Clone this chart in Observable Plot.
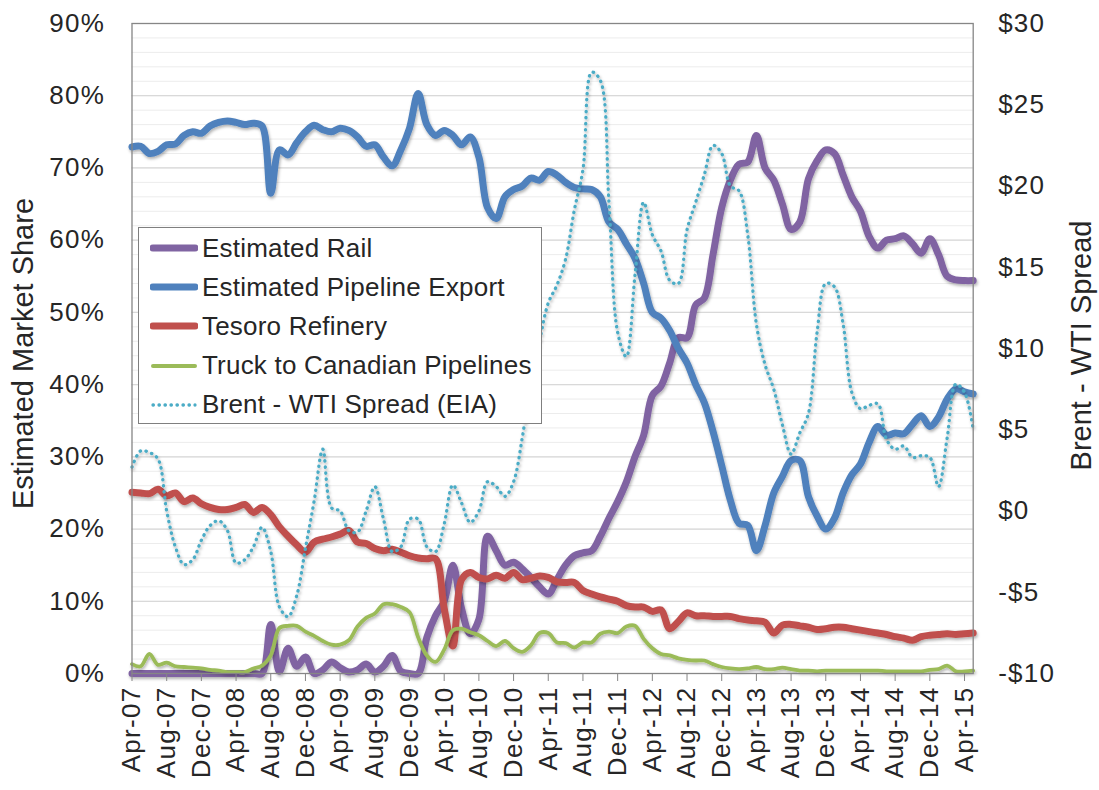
<!DOCTYPE html>
<html>
<head>
<meta charset="utf-8">
<script src="https://cdn.jsdelivr.net/npm/d3@7"></script>
<script src="https://cdn.jsdelivr.net/npm/@observablehq/plot@0.6"></script>
<style>
  html, body { margin: 0; padding: 0; background: #fff; }
  #wrap { position: relative; width: 1099px; height: 790px; font-family: "Liberation Sans", Arial, sans-serif; color: #262626; }
  #legend { position: absolute; left: 138px; top: 227px; width: 402px; height: 195px; background: #fff; border: 1.5px solid #7f7f7f; }
  .row { position: absolute; left: 0; height: 39px; display: flex; align-items: center; font-size: 26px; white-space: nowrap; letter-spacing: 0.2px; }
  .row svg { margin-left: 11px; margin-right: 4px; }
  g[aria-label="x-axis tick label"] text { letter-spacing: 1.3px; }
  g[aria-label="y-axis tick label"] text { letter-spacing: 1.2px; }
</style>
</head>
<body>
<div id="wrap"></div>
<script>
// Month categories (Apr-07 .. May-15)
const months = ["Apr-07","May-07","Jun-07","Jul-07","Aug-07","Sep-07","Oct-07","Nov-07","Dec-07","Jan-08",
"Feb-08","Mar-08","Apr-08","May-08","Jun-08","Jul-08","Aug-08","Sep-08","Oct-08","Nov-08",
"Dec-08","Jan-09","Feb-09","Mar-09","Apr-09","May-09","Jun-09","Jul-09","Aug-09","Sep-09",
"Oct-09","Nov-09","Dec-09","Jan-10","Feb-10","Mar-10","Apr-10","May-10","Jun-10","Jul-10",
"Aug-10","Sep-10","Oct-10","Nov-10","Dec-10","Jan-11","Feb-11","Mar-11","Apr-11","May-11",
"Jun-11","Jul-11","Aug-11","Sep-11","Oct-11","Nov-11","Dec-11","Jan-12","Feb-12","Mar-12",
"Apr-12","May-12","Jun-12","Jul-12","Aug-12","Sep-12","Oct-12","Nov-12","Dec-12","Jan-13",
"Feb-13","Mar-13","Apr-13","May-13","Jun-13","Jul-13","Aug-13","Sep-13","Oct-13","Nov-13",
"Dec-13","Jan-14","Feb-14","Mar-14","Apr-14","May-14","Jun-14","Jul-14","Aug-14","Sep-14",
"Oct-14","Nov-14","Dec-14","Jan-15","Feb-15","Mar-15","Apr-15","May-15"];

// Estimated market share (%)
const rail = [
0,0,0,0,0,0,0,0,0,0,
0,0,0,0,0,0,6.8,0.3,3.5,1.0,
2.3,0,0.5,1.6,0.8,0.2,0.5,1.3,0.2,1.0,
2.5,0.3,0,0,5.0,8.0,10.0,15.0,9.0,5.5,
7.5,19.0,17.0,15.0,15.4,14.5,13.3,12.0,11.0,13.0,
15.0,16.3,16.7,17.0,19.0,21.5,23.8,26.5,30.0,33.0,
38.5,39.8,43.0,46.5,46.5,51.0,52.0,58.0,64.5,68.3,
70.5,70.8,74.5,70.0,68.3,65.0,61.5,62.5,68.5,71.0,
72.5,72.0,69.0,66.0,64.0,60.5,58.9,60.0,60.2,60.6,
59.5,58.2,60.2,58.0,55.0,54.5,54.4,54.4];

const pipeline = [
72.9,73.0,72.0,72.3,73.2,73.3,74.5,75.0,74.8,75.8,
76.3,76.5,76.3,76.0,76.2,75.8,66.5,72.5,71.8,73.5,
75.0,75.9,75.3,75.0,75.5,75.2,74.3,73.0,73.2,71.5,
70.3,72.5,75.5,80.3,76.0,74.5,75.2,74.5,73.2,74.3,
71.5,64.5,63.0,66.0,67.0,67.5,68.6,68.3,69.5,69.0,
68.0,67.3,67.1,67.0,66.0,62.5,61.5,59.5,57.5,54.0,
50.0,49.2,47.5,45.0,43.0,40.0,37.5,33.5,28.8,24.0,
20.8,20.5,17.0,20.5,25.0,27.3,29.5,29.5,24.5,21.8,
20.0,21.5,25.0,27.5,29.0,32.0,34.2,33.0,33.3,33.2,
34.5,35.7,34.2,35.5,38.0,39.4,39.0,38.7];

const tesoro = [
25.1,25.0,24.9,25.5,24.6,25.0,23.8,24.3,23.5,23.0,
22.7,22.7,23.0,23.4,22.3,23.0,22.0,20.3,19.0,17.8,
16.8,18.2,18.6,18.9,19.3,19.8,18.2,18.0,17.3,17.0,
17.2,16.8,16.3,16.0,15.9,15.9,9.0,3.8,13.0,14.0,
13.3,13.1,13.6,13.2,14.0,13.0,13.2,13.5,13.3,12.7,
12.6,12.6,11.5,11.0,10.6,10.3,10.0,9.4,9.2,9.2,
8.6,8.8,6.2,7.2,8.4,8.0,8.0,7.9,7.9,7.9,
7.6,7.4,7.3,7.1,5.6,6.7,6.8,6.6,6.4,6.1,
6.2,6.4,6.4,6.2,6.0,5.8,5.6,5.4,5.1,4.9,
4.6,5.1,5.3,5.4,5.5,5.4,5.5,5.6];

const truck = [
1.3,1.0,2.7,1.2,1.5,1.0,0.9,0.8,0.7,0.5,
0.4,0.2,0.2,0.2,0.7,1.1,2.5,6.3,6.6,6.6,
5.8,5.2,4.5,4.0,4.0,4.6,6.5,7.7,8.3,9.6,
9.6,9.2,8.5,5.0,2.5,1.6,3.3,6.0,6.2,5.7,
5.3,4.5,3.8,4.5,3.5,3.0,3.9,5.6,5.6,4.3,
4.2,3.6,4.3,4.3,5.5,5.8,5.6,6.5,6.6,4.8,
3.5,2.7,2.5,2.1,1.9,1.8,1.8,1.3,0.9,0.7,
0.6,0.7,0.9,0.6,0.6,0.8,0.6,0.4,0.4,0.3,
0.4,0.4,0.4,0.4,0.4,0.4,0.4,0.3,0.3,0.3,
0.3,0.3,0.5,0.6,1.1,0.3,0.3,0.4];

// Brent - WTI spread ($/bbl), right axis
const spread = [
2.7,3.7,3.6,3.2,0.0,-2.2,-3.3,-3.0,-1.8,-0.9,
-0.6,-1.2,-3.2,-3.0,-2.2,-1.0,-2.5,-5.9,-6.5,-5.2,
-2.3,0.6,3.8,0.2,0.0,-1.2,-1.3,0.0,1.5,-0.5,
-2.5,-2.2,-0.5,-0.5,-2.2,-2.5,-0.8,1.6,0.5,-0.7,
0.0,1.8,1.5,0.9,1.8,4.5,8.0,10.5,12.8,13.9,
15.5,18.5,21.0,27.0,26.5,19.0,11.0,9.5,14.5,19.0,
17.0,16.0,14.2,14.0,17.3,19.0,20.7,22.5,22.0,20.0,
19.7,17.0,11.5,9.0,7.5,5.3,3.5,4.8,6.0,11.0,
14.0,13.8,11.5,7.3,6.3,6.5,6.6,4.4,3.8,4.0,
3.3,3.4,3.3,1.5,4.5,7.8,7.3,5.0];

const pctTicks = [0,10,20,30,40,50,60,70,80,90];
const spreadTicks = [-10,-5,0,5,10,15,20,25,30];
const xTickIdx = [0,4,8,12,16,20,24,28,32,36,40,44,48,52,56,60,64,68,72,76,80,84,88,92,96];

const seriesNames = ["Estimated Rail","Estimated Pipeline Export","Tesoro Refinery","Truck to Canadian Pipelines","Brent - WTI Spread (EIA)"];
const colors = ["#8064A2","#4F81BD","#C0504D","#9BBB59","#4BACC6"];

// map spread ($) onto left-axis units: -10..30 -> 0..90
const toPct = s => (s + 10) * 90 / 40;
const fromPct = p => p * 40 / 90 - 10;

const mk = arr => arr.map((v, i) => ({i, v}));
const fontFam = '"Liberation Sans", Arial, sans-serif';

const chart = Plot.plot({
  width: 1099,
  height: 790,
  marginLeft: 131.5,
  marginRight: 126.3,
  marginTop: 23,
  marginBottom: 117,
  style: {fontFamily: fontFam, color: "#262626", background: "#fff"},
  x: {domain: [0, months.length - 1]},
  y: {domain: [0, 90]},
  marks: [
    Plot.ruleY(d3.range(0, 91, 2), {stroke: "#ececec", strokeWidth: 1}),
    Plot.ruleY(pctTicks, {stroke: "#d9d9d9", strokeWidth: 1.2}),
    Plot.line(mk(rail), {x: "i", y: "v", stroke: colors[0], strokeWidth: 7, curve: "catmull-rom"}),
    Plot.line(mk(pipeline), {x: "i", y: "v", stroke: colors[1], strokeWidth: 7, curve: "catmull-rom"}),
    Plot.line(mk(tesoro), {x: "i", y: "v", stroke: colors[2], strokeWidth: 7, curve: "catmull-rom"}),
    Plot.line(mk(truck), {x: "i", y: "v", stroke: colors[3], strokeWidth: 3.8, curve: "catmull-rom"}),
    Plot.line(spread.map((v, i) => ({i, v: toPct(v)})), {x: "i", y: "v", stroke: colors[4], strokeWidth: 3.3, strokeDasharray: "0.4 5.6", strokeLinecap: "round", curve: "catmull-rom"}),
    Plot.frame({stroke: "#868686", strokeWidth: 1.3}),
    Plot.axisY(pctTicks, {anchor: "left", tickFormat: d => d + "%", tickSize: 0, tickPadding: 27, fontSize: 26, label: null}),
    Plot.axisY(spreadTicks.map(toPct), {anchor: "right", tickFormat: p => { const s = Math.round(fromPct(p)); return (s < 0 ? "-$" : "$") + Math.abs(s); }, tickSize: 0, tickPadding: 25, fontSize: 26, label: null}),
    Plot.axisX(xTickIdx, {anchor: "bottom", tickFormat: i => months[i], tickRotate: -90, tickSize: 8, tickPadding: 5, fontSize: 26, stroke: "#868686", label: null}),
    Plot.text(["Estimated Market Share"], {frameAnchor: "left", textAnchor: "middle", rotate: -90, dx: -108, dy: 5, fontSize: 29, fill: "#262626"}),
    Plot.text(["Brent - WTI Spread"], {frameAnchor: "right", textAnchor: "middle", rotate: -90, dx: 109, dy: -3, fontSize: 29, fill: "#262626"})
  ]
});

// soft shadow like the original
const svg = d3.select(chart);
const defs = svg.insert("defs", ":first-child");
const f = defs.append("filter").attr("id", "shd").attr("x", "-5%").attr("y", "-5%").attr("width", "110%").attr("height", "115%");
f.append("feDropShadow").attr("dx", 1).attr("dy", 2).attr("stdDeviation", 1.6).attr("flood-color", "#000").attr("flood-opacity", 0.3);
svg.selectAll('g[aria-label="line"]').attr("filter", "url(#shd)");

const wrap = document.getElementById("wrap");
wrap.appendChild(chart);

// legend (inside plot area, as in the original)
const legend = document.createElement("div");
legend.id = "legend";
const widths = [7, 7, 7, 4, 3.3];
seriesNames.forEach((name, k) => {
  const row = document.createElement("div");
  row.className = "row";
  row.style.top = (0.5 + k * 39.2) + "px";
  const dash = k === 4 ? 'stroke-dasharray="0.4 5.6"' : "";
  row.innerHTML = `<svg width="48" height="12"><line x1="3" y1="6" x2="45" y2="6" stroke="${colors[k]}" stroke-width="${widths[k]}" stroke-linecap="round" ${dash}/></svg><span>${name}</span>`;
  legend.appendChild(row);
});
wrap.appendChild(legend);
</script>
</body>
</html>
